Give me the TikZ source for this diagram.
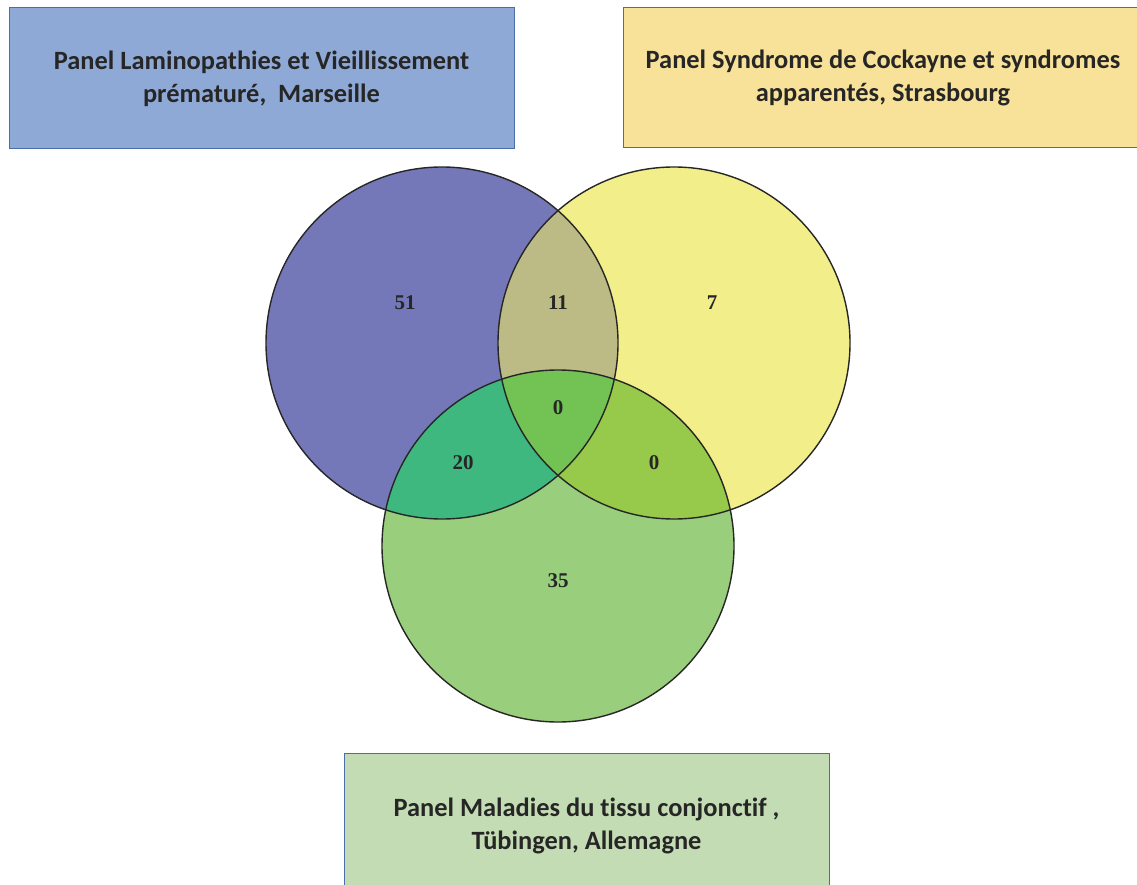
\documentclass[tikz,border=0pt]{standalone}
\usepackage{fontspec}
\setmainfont{Liberation Serif}
\newfontfamily\calib[Ligatures=NoCommon]{Carlito}
\begin{document}
\begin{tikzpicture}[x=1pt,y=-1pt,
  panel/.style={draw=panelborder,line width=1pt,inner sep=0pt,align=center,font=\calib\bfseries\fontsize{26.4}{33}\selectfont,text=textdark},
  venn/.style={circle,minimum size=352pt,inner sep=0pt},
  cnt/.style={font=\bfseries\fontsize{21}{22}\selectfont,text=textdark}]
\definecolor{panelborder}{HTML}{4A6FA8}
\definecolor{textdark}{HTML}{262626}
\definecolor{boxA}{HTML}{8FA9D6}
\definecolor{boxB}{HTML}{F8E29A}
\definecolor{boxC}{HTML}{C4DCB4}
\definecolor{cA}{HTML}{7578B8}
\definecolor{cB}{HTML}{F2EE8A}
\definecolor{cC}{HTML}{98CE7C}
\definecolor{cAB}{HTML}{BDBB85}
\definecolor{cAC}{HTML}{3FB87F}
\definecolor{cBC}{HTML}{97C94A}
\definecolor{cABC}{HTML}{72C254}
\useasboundingbox (0,0) rectangle (1137,885);
% panels
\node[panel,fill=boxA,minimum width=505pt,minimum height=141pt] (pA) at (261.5,78.5)
  {Panel Laminopathies et Vieillissement\\prématuré,\ \ Marseille};
\node[panel,fill=boxB,minimum width=520pt,minimum height=140pt] (pB) at (883,78)
  {Panel Syndrome de Cockayne et syndromes\\apparentés, Strasbourg};
\node[panel,fill=boxC,minimum width=485pt,minimum height=145pt] (pC) at (586.5,825.5)
  {Panel Maladies du tissu conjonctif ,\\Tübingen, Allemagne};
% circles
\node[venn,fill=cA] (A) at (442,343) {};
\node[venn,fill=cB] (B) at (674,343) {};
\node[venn,fill=cC] (C) at (558,546) {};
\begin{scope}
  \clip (A.center) circle[radius=176];
  \fill[cAB] (B.center) circle[radius=176];
  \fill[cAC] (C.center) circle[radius=176];
\end{scope}
\begin{scope}
  \clip (B.center) circle[radius=176];
  \fill[cBC] (C.center) circle[radius=176];
  \clip (C.center) circle[radius=176];
  \fill[cABC] (A.center) circle[radius=176];
\end{scope}
\draw[line width=1.4pt,textdark] (A.center) circle[radius=176];
\draw[line width=1.4pt,textdark] (B.center) circle[radius=176];
\draw[line width=1.4pt,textdark] (C.center) circle[radius=176];
% counts
\node[cnt] (nA) at (405,303) {51};
\node[cnt] (nAB) at (558,303) {11};
\node[cnt] (nB) at (712,303) {7};
\node[cnt] (nABC) at (558,408) {0};
\node[cnt] (nAC) at (463,463) {20};
\node[cnt] (nBC) at (654,463) {0};
\node[cnt] (nC) at (558,581) {35};
\end{tikzpicture}
\end{document}
